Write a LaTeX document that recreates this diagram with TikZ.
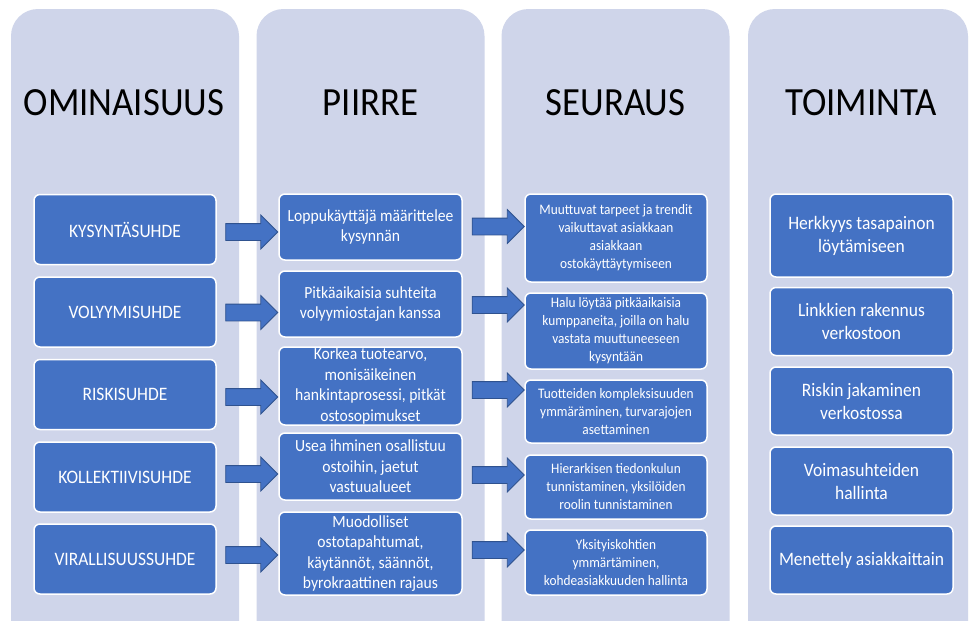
\documentclass[tikz,border=0pt]{standalone}
\usepackage{fontspec}
\setmainfont{Carlito}[FakeStretch=0.92]
\usetikzlibrary{shapes.arrows,positioning}
\definecolor{lanebg}{HTML}{CFD5EA}
\definecolor{boxblue}{HTML}{4472C4}
\definecolor{arrowedge}{HTML}{2F528F}
\tikzstyle{lane}=[fill=lanebg,rounded corners=27pt,minimum width=228pt,minimum height=640pt]
\tikzstyle{head}=[font=\fontsize{40}{46}\selectfont,anchor=base]
\tikzstyle{cell}=[draw=white,line width=1.5pt,fill=boxblue,rounded corners=6pt,text=white,align=center,inner xsep=2pt,inner ysep=0pt,minimum width=182pt]
\tikzstyle{blk}=[single arrow,fill=boxblue,draw=arrowedge,line width=0.8pt,inner xsep=0pt,inner ysep=8pt,minimum height=52pt,single arrow head extend=8.5pt]

\begin{document}
\begin{tikzpicture}[x=1pt,y=-1pt]
        \clip (0,0) rectangle (970,621);
        \fill[white] (0,0) rectangle (970,621);
        % lanes
        \node [lane] (laneA) at (125,329) {};
        \node [lane] (laneB) at (370.5,329) {};
        \node [lane] (laneC) at (615.5,329) {};
        \node [lane, minimum width=220pt] (laneD) at (858,329) {};
        \node [head] (hA) at (124,115) {OMINAISUUS};
        \node [head] (hB) at (370.5,115) {PIIRRE};
        \node [head] (hC) at (615.5,115) {SEURAUS};
        \node [head] (hD) at (861,115) {TOIMINTA};
        % ominaisuus
        \begin{scope}[every node/.append style={cell,minimum height=70pt,font=\fontsize{19}{23}\selectfont}]
        \node (om1) at (125,229.5) {KYSYNTÄSUHDE};
        \node (om2) at (125,312) {VOLYYMISUHDE};
        \node (om3) at (125,394.5) {RISKISUHDE};
        \node (om4) at (125,477) {KOLLEKTIIVISUHDE};
        \node (om5) at (125,559) {VIRALLISUUSSUHDE};
        \end{scope}
        % piirre
        \begin{scope}[every node/.append style={cell,minimum width=183pt,font=\fontsize{17}{20.5}\selectfont}]
        \node [minimum height=66pt] (pi1) at (370.5,227) {Loppukäyttäjä määrittelee\\kysynnän};
        \node [minimum height=66pt] (pi2) at (370.5,304) {Pitkäaikaisia suhteita\\volyymiostajan kanssa};
        \node [minimum height=78pt] (pi3) at (370.5,386) {Korkea tuotearvo,\\monisäikeinen\\hankintaprosessi, pitkät\\ostosopimukset};
        \node [minimum height=67pt] (pi4) at (370.5,466.5) {Usea ihminen osallistuu\\ostoihin, jaetut\\vastuualueet};
        \node [minimum height=83pt] (pi5) at (370.5,553.5) {Muodolliset\\ostotapahtumat,\\käytännöt, säännöt,\\byrokraattinen rajaus};
        \end{scope}
        % seuraus
        \begin{scope}[every node/.append style={cell,font=\fontsize{14.5}{18}\selectfont}]
        \node [minimum height=88pt] (se1) at (616,238) {Muuttuvat tarpeet ja trendit\\vaikuttavat asiakkaan\\asiakkaan\\ostokäyttäytymiseen};
        \node [minimum height=76pt] (se2) at (616,331) {Halu löytää pitkäaikaisia\\kumppaneita, joilla on halu\\vastata muuttuneeseen\\kysyntään};
        \node [minimum height=63pt] (se3) at (616,411.5) {Tuotteiden kompleksisuuden\\ymmäräminen, turvarajojen\\asettaminen};
        \node [minimum height=64pt] (se4) at (616,487) {Hierarkisen tiedonkulun\\tunnistaminen, yksilöiden\\roolin tunnistaminen};
        \node [minimum height=65pt] (se5) at (616,562.5) {Yksityiskohtien\\ymmärtäminen,\\kohdeasiakkuuden hallinta};
        \end{scope}
        % toiminta
        \begin{scope}[every node/.append style={cell,minimum width=183pt,minimum height=68pt,font=\fontsize{19}{23}\selectfont}]
        \node [minimum height=83pt] (to1) at (861.5,235.5) {Herkkyys tasapainon\\löytämiseen};
        \node (to2) at (861.5,321.5) {Linkkien rakennus\\verkostoon};
        \node (to3) at (861.5,401) {Riskin jakaminen\\verkostossa};
        \node (to4) at (861.5,481) {Voimasuhteiden\\hallinta};
        \node (to5) at (861.5,560) {Menettely asiakkaittain};
        \end{scope}
        % arrows
        \foreach \i/\ya/\yb in {1/232/226.5,2/312.5/305,3/397/390,4/474/475,5/555/550} {
            \node [blk] (ab\i) at (247.5,\ya) {};
            \node [blk] (bc\i) at (494,\yb) {};
        }
    \end{tikzpicture}
\end{document}
